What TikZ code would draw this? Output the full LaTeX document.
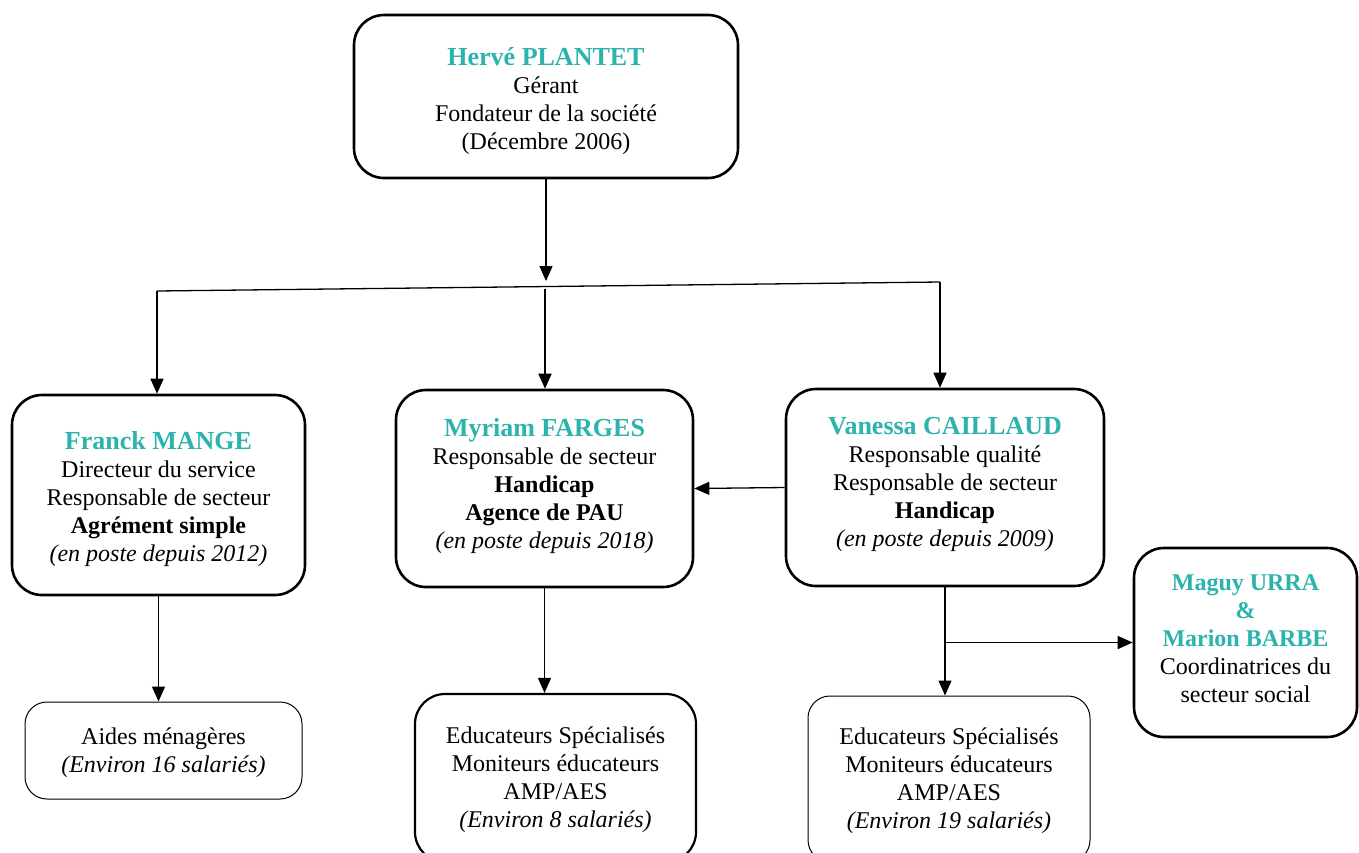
\documentclass[tikz,border=0pt]{standalone}
\usepackage{fontspec}
\setmainfont{Liberation Serif}
\usetikzlibrary{arrows.meta}
\definecolor{tealname}{RGB}{43,179,172}
\newcommand{\tname}[1]{{\fontsize{26}{28}\selectfont\bfseries\color{tealname}#1}}
\newcommand{\sname}[1]{{\fontsize{24}{28}\selectfont\bfseries\color{tealname}#1}}
\tikzset{
  box/.style={draw, line width=2.6pt, rounded corners=30pt, inner sep=0pt},
  thinbox/.style={draw, line width=1pt, rounded corners=22pt, inner sep=0pt},
  txt/.style={align=center, inner sep=0pt, font=\fontsize{24}{28}\selectfont},
  conn/.style={line width=1.3pt, -{Triangle[length=15pt,width=13pt]}},
  link/.style={line width=1.3pt},
}
\begin{document}
\begin{tikzpicture}[x=1pt,y=-1pt]
\useasboundingbox (0,0) rectangle (1359,852);
\fill[white] (0,0) rectangle (1359,852);
\clip (0,0) rectangle (1359,852);

% boxes
\node[box, minimum width=384pt, minimum height=163pt] (top) at (546,96.5) {};
\node[box, minimum width=293pt, minimum height=200pt] (franck) at (158.5,495) {};
\node[box, minimum width=297pt, minimum height=197pt] (myriam) at (544.5,488.5) {};
\node[box, minimum width=318pt, minimum height=197pt] (vanessa) at (945,487.5) {};
\node[box, minimum width=223pt, minimum height=189pt] (maguy) at (1245.5,642.5) {};
\node[thinbox, minimum width=277pt, minimum height=97pt] (aides) at (163.5,750.5) {};
\node[box, line width=2.2pt, minimum width=281pt, minimum height=168pt] (educa) at (555.5,778) {};
\node[thinbox, minimum width=282pt, minimum height=166pt] (educb) at (949,779) {};

% texts
\node[txt] (topT) at ([yshift=-5pt]top.center)
  {\tname{Hervé PLANTET}\\Gérant\\Fondateur de la société\\(Décembre 2006)};
\node[txt] (franckT) at ([yshift=-4pt]franck.center)
  {\tname{Franck MANGE}\\Directeur du service\\Responsable de secteur\\\textbf{Agrément simple}\\\textit{(en poste depuis 2012)}};
\node[txt] (myriamT) at ([yshift=2pt]myriam.center)
  {\tname{Myriam FARGES}\\Responsable de secteur\\\textbf{Handicap}\\\textbf{Agence de PAU}\\\textit{(en poste depuis 2018)}};
\node[txt] (vanessaT) at ([yshift=3pt]vanessa.center)
  {\tname{Vanessa CAILLAUD}\\Responsable qualité\\Responsable de secteur\\\textbf{Handicap}\\\textit{(en poste depuis 2009)}};
\node[txt] (maguyT) at ([yshift=4pt]maguy.center)
  {\sname{Maguy URRA}\\\sname{\&}\\\sname{Marion BARBE}\\Coordinatrices du\\secteur social};
\node[txt] (aidesT) at ([yshift=-2pt]aides.center)
  {Aides ménagères\\\textit{(Environ 16 salariés)}};
\node[txt] (educaT) at ([yshift=-2pt]educa.center)
  {Educateurs Spécialisés\\Moniteurs éducateurs\\AMP/AES\\\textit{(Environ 8 salariés)}};
\node[txt] (educbT) at ([yshift=-2pt]educb.center)
  {Educateurs Spécialisés\\Moniteurs éducateurs\\AMP/AES\\\textit{(Environ 19 salariés)}};

% connectors
\coordinate (hm) at (546,281);
\coordinate (hmb) at (545,289);
\coordinate (hl) at (157,291);
\coordinate (hr) at (940,282);

\draw[conn] (top.south) -- (hm);
\draw[link] (hl) -- (hr);
\draw[conn] (hl) -- (hl |- franck.north);
\draw[conn] (hr) -- (hr |- vanessa.north);
\draw[conn, line width=1.8pt] (hmb) -- (hmb |- myriam.north);

\draw[conn] (vanessa.west) -- (myriam.east);

\draw[conn] (franck.south) -- (franck.south |- aides.north);
\draw[conn] (myriam.south) -- (myriam.south |- educa.north);
\draw[conn] (vanessa.south) -- (vanessa.south |- educb.north);
\coordinate (vb) at (vanessa.south |- maguy.west);
\draw[conn] (vb) -- (maguy.west);
\end{tikzpicture}
\end{document}
